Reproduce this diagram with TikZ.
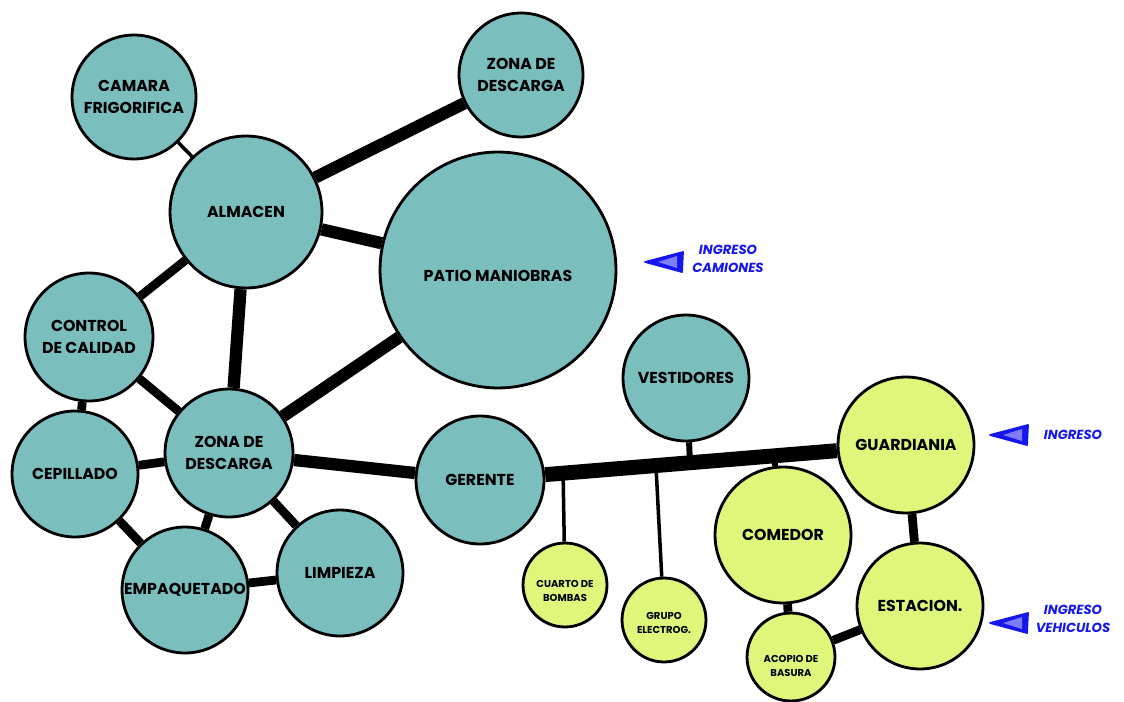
\documentclass[tikz,border=0pt]{standalone}
\usepackage{fontspec}
\setmainfont{Poppins}
\usetikzlibrary{calc,backgrounds}

\definecolor{verdeazul}{RGB}{123,190,190}
\definecolor{limon}{RGB}{222,246,122}
\definecolor{azulin}{RGB}{22,22,238}
\definecolor{azulclaro}{RGB}{125,125,250}
% texto algo mas abajo del centro del circulo
\newcommand\bajar[2]{\raisebox{-#1}[\height][\depth]{\begin{tabular}{@{}c@{}}#2\end{tabular}}}

\begin{document}
\begin{tikzpicture}[x=0.02cm, y=-0.02cm, line join=round,
    area/.style={circle, draw, line width=1.6pt, inner sep=0pt, align=center,
      minimum size=#1*0.04cm, font=\fontsize{9}{12.5}\selectfont\bfseries},
    zona/.style={area=#1, fill=verdeazul},
    serv/.style={area=#1, fill=limon},
    chico/.style={serv=#1, font=\fontsize{5.7}{8}\selectfont\bfseries},
    fina/.style={line width=2pt},
    corta/.style={line width=3.4pt},
    media/.style={line width=5pt},
    gruesa/.style={line width=7pt},
    barra/.style={line width=8.5pt},
    ingreso/.style={text=azulin, align=center, font=\fontsize{7.5}{10}\selectfont\bfseries\itshape}]
    \useasboundingbox (0,0) rectangle (1124,702);
    % zonas de planta
    \node[zona=62] (camara) at (134,97) {CAMARA\\FRIGORIFICA};
    \node[zona=62] (zonaa) at (521,75) {ZONA DE\\DESCARGA};
    \node[zona=76] (almacen) at (246,212) {ALMACEN};
    \node[zona=118] (patio) at (498,270) {\bajar{4pt}{PATIO MANIOBRAS}};
    \node[zona=64] (control) at (89,337) {CONTROL\\DE CALIDAD};
    \node[zona=64] (zonab) at (229,453) {ZONA DE\\DESCARGA};
    \node[zona=63] (cepillado) at (75,474) {CEPILLADO};
    \node[zona=63] (empaq) at (185,590) {EMPAQUETADO};
    \node[zona=63] (limpieza) at (340,573) {LIMPIEZA};
    \node[zona=64] (gerente) at (480,480) {GERENTE};
    \node[zona=63] (vest) at (686,378) {VESTIDORES};
    % servicios
    \node[serv=68] (guard) at (906,445) {GUARDIANIA};
    \node[serv=68] (comedor) at (783,535) {COMEDOR};
    \node[serv=63] (estacion) at (920,606) {ESTACION.};
    \node[chico=42] (bombas) at (565,585) {\bajar{4pt}{CUARTO DE\\BOMBAS}};
    \node[chico=42] (grupo) at (664,620) {\bajar{2pt}{GRUPO\\ELECTROG.}};
    \node[chico=44] (acopio) at (791,657) {\bajar{5.5pt}{ACOPIO DE\\BASURA}};
    \coordinate (j1) at ($(gerente)!0.195!(guard)$);
    \coordinate (j2) at ($(gerente)!0.413!(guard)$);
    \coordinate (j3) at ($(gerente)!0.493!(guard)$);
    \coordinate (j4) at ($(gerente)!0.69!(guard)$);
    \begin{scope}[on background layer]
      \draw[fina] (camara) -- (almacen);
      \draw[gruesa] (almacen) -- (zonaa);
      \draw[gruesa] (almacen) -- (patio);
      \draw[media] (almacen) -- (control);
      \draw[gruesa] (almacen) -- (zonab);
      \draw[gruesa] (patio) -- (zonab);
      \draw[media] (control) -- (zonab);
      \draw[media] (control) -- (cepillado);
      \draw[media] (cepillado) -- (zonab);
      \draw[media] (cepillado) -- (empaq);
      \draw[media] (zonab) -- (empaq);
      \draw[media] (zonab) -- (limpieza);
      \draw[media] (empaq) -- (limpieza);
      \draw[gruesa] (zonab) -- (gerente);
      \draw[barra] (gerente) -- (guard);
      \draw[fina] (j1) -- (bombas);
      \draw[fina] (j2) -- (grupo);
      \draw[corta] (j3) -- (vest);
      \draw[corta] (j4) -- (comedor);
      \draw[media] (guard) -- (estacion);
      \draw[media] (comedor) -- (acopio);
      \draw[media] (estacion) -- (acopio);
    \end{scope}
    % ingresos
    \foreach \x/\y in {645/262, 990/435, 990/623} {
      \fill[azulin, draw=azulin, line width=1pt] (\x,\y) -- ++(38,-10) -- ++(-1,20) -- cycle;
      \fill[azulclaro] (\x+13,\y) -- ++(19,-6) -- ++(0,12) -- cycle;
    }
    \node[ingreso] (ingcam) at (728,259) {INGRESO\\CAMIONES};
    \node[ingreso] (ingper) at (1073,435) {INGRESO};
    \node[ingreso] (ingveh) at (1073,619) {INGRESO\\VEHICULOS};
\end{tikzpicture}
\end{document}
